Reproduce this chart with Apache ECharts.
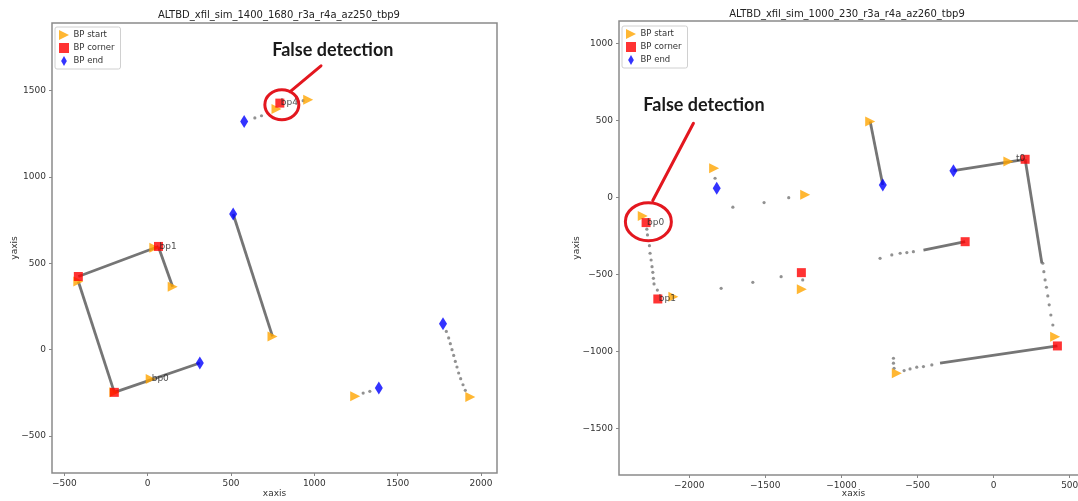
<!DOCTYPE html>
<html>
<head>
<meta charset="utf-8">
<script src="https://cdn.jsdelivr.net/npm/echarts@6/dist/echarts.min.js"></script>
<style>
html,body{margin:0;padding:0;background:#fff;overflow:hidden;}
#chart{width:1078px;height:501px;}
</style>
</head>
<body>
<div id="chart"></div>
<script>
// ---------- DATA ----------
const leftTitle = 'ALTBD_xfil_sim_1400_1680_r3a_r4a_az250_tbp9';
const rightTitle = 'ALTBD_xfil_sim_1000_230_r3a_r4a_az260_tbp9';
const seriesNames = ['BP start', 'BP corner', 'BP end'];
const axisNames = ['xaxis', 'yaxis'];

const leftXTicks = [-500, 0, 500, 1000, 1500, 2000];
const leftYTicks = [-500, 0, 500, 1000, 1500];
const rightXTicks = [-2000, -1500, -1000, -500, 0, 500];
const rightYTicks = [-1500, -1000, -500, 0, 500, 1000];

// left panel
const leftStart = [[-416,395],[40,590],[150,365],[-200,-247],[18,-170],[749,77],[1936,-274],[1245,-270],[773,1394],[963,1448]];
const leftCorner = [[-416,424],[65,598],[-200,-247],[793,1428]];
const leftEnd = [[313,-77],[513,786],[1772,150],[1387,-222],[579,1322]];
const leftTracks = [
  [[-416,424],[65,598]],
  [[65,595],[150,365]],
  [[-416,395],[-200,-247]],
  [[-200,-247],[313,-77]],
  [[513,786],[749,77]]
];
const leftDots = [[643,1342],[683,1355],[903,1438],[933,1442],
  [1792,106],[1806,68],[1816,35],[1826,0],[1836,-33],[1846,-68],[1856,-100],[1866,-135],[1878,-168],[1892,-203],[1906,-235],
  [1293,-251],[1333,-241]];
const leftLabels = [[65,598,'bp1'],[18,-170,'bp0'],[793,1428,'bp4']];

// right panel
const rightStart = [[-2305,-119],[-2104,-643],[-1260,-595],[-1836,191],[-1238,18],[-811,494],[97,234],[404,-903],[-636,-1140]];
const rightCorner = [[-2283,-162],[-2206,-658],[-1263,-487],[207,249],[419,-963],[-187,-286]];
const rightEnd = [[-1819,61],[-728,82],[-264,175]];
const rightTracks = [
  [[-811,494],[-728,82]],
  [[-264,175],[207,249]],
  [[207,249],[317,-426]],
  [[419,-963],[-352,-1075]],
  [[-187,-286],[-461,-340]]
];
const rightDots = [[-2278,-205],[-2274,-242],[-2261,-312],[-2257,-361],[-2250,-405],[-2244,-448],[-2239,-485],[-2235,-524],[-2231,-560],[-2209,-600],
  [-1790,-589],[-1582,-550],[-1396,-513],[-1254,-534],
  [-1830,126],[-1713,-62],[-1508,-32],[-1346,0],
  [323,-426],[330,-481],[338,-534],[347,-582],[356,-638],[365,-696],[376,-762],[389,-827],
  [-406,-1086],[-461,-1097],[-505,-1101],[-549,-1112],[-588,-1123],
  [-658,-1043],[-658,-1075],[-654,-1108],
  [-527,-351],[-570,-357],[-614,-361],[-669,-372],[-746,-394]];
const rightLabels = [[-2283,-162,'bp0'],[-2206,-658,'bp1'],[141,256,'t0']];

// annotation overlays (data coordinates of each panel)
const annotationText = 'False detection';
const annotations = [
  {grid:0, text:[1111,1737], circle:[805,1419], lineFrom:[1040,1644], lineTo:[855,1494], rx:17, ry:15},
  {grid:1, text:[-1903,602], circle:[-2268,-156], lineFrom:[-1972,483], lineTo:[-2239,-19], rx:23, ry:19}
];

// ---------- CHART ----------
const FONT = 'DejaVu Sans';
const triPath = 'path://M0,0L10,5L0,10Z';
const sqPath = 'path://M0,0L10,0L10,10L0,10Z';
const diaPath = 'path://M4,0L8,7L4,14L0,7Z';
const colors = {start:'#FFA500', corner:'#FF0000', end:'#0000FF', track:'#757575'};
const minusFmt = v => String(v).replace('-', '\u2212');

const chart = echarts.init(document.getElementById('chart'), null, {renderer:'canvas'});

function xAxisCfg(gi, min, max, ticks, gap){
  return {
    type:'value', gridIndex:gi, min:min, max:max, position:'bottom',
    name:axisNames[0], nameLocation:'middle', nameGap:gap, nameMoveOverlap:false,
    nameTextStyle:{fontFamily:FONT, fontSize:9, color:'#333'},
    axisLine:{show:false, onZero:false}, splitLine:{show:false},
    axisTick:{show:true, length:3, lineStyle:{color:'#888'}, customValues:ticks},
    axisLabel:{fontFamily:FONT, fontSize:9, color:'#333', margin:6, customValues:ticks, formatter:minusFmt}
  };
}
function yAxisCfg(gi, min, max, ticks, gap){
  return {
    type:'value', gridIndex:gi, min:min, max:max, position:'left',
    name:axisNames[1], nameLocation:'middle', nameGap:gap, nameRotate:90, nameMoveOverlap:false,
    nameTextStyle:{fontFamily:FONT, fontSize:9, color:'#333'},
    axisLine:{show:false, onZero:false}, splitLine:{show:false},
    axisTick:{show:true, length:3, lineStyle:{color:'#888'}, customValues:ticks},
    axisLabel:{fontFamily:FONT, fontSize:9, color:'#333', margin:6, customValues:ticks, formatter:minusFmt}
  };
}
function panelSeries(gi, tracks, dots, start, corner, end, labels){
  return [
    {type:'lines', coordinateSystem:'cartesian2d', xAxisIndex:gi, yAxisIndex:gi, polyline:true, silent:true,
     lineStyle:{color:colors.track, width:2.8, opacity:1}, data:tracks.map(t => ({coords:t})), z:2},
    {type:'scatter', name:'pts', xAxisIndex:gi, yAxisIndex:gi, symbol:'circle', symbolSize:3.2,
     itemStyle:{color:colors.track}, data:dots, silent:true, z:3},
    {type:'scatter', name:seriesNames[0], xAxisIndex:gi, yAxisIndex:gi, symbol:triPath, symbolSize:[10,10],
     itemStyle:{color:colors.start}, data:start, z:4},
    {type:'scatter', name:seriesNames[1], xAxisIndex:gi, yAxisIndex:gi, symbol:sqPath, symbolSize:[9,9],
     itemStyle:{color:colors.corner}, data:corner, z:5},
    {type:'scatter', name:seriesNames[2], xAxisIndex:gi, yAxisIndex:gi, symbol:diaPath, symbolSize:[8,13],
     itemStyle:{color:colors.end}, data:end, z:6},
    {type:'scatter', name:'labels', xAxisIndex:gi, yAxisIndex:gi, symbolSize:0, silent:true, z:7,
     data:labels,
     label:{show:true, position:'right', distance:1, formatter:p => p.value[2],
            fontFamily:FONT, fontSize:9, color:'#222'}}
  ];
}
function legendCfg(left, top){
  return {
    left:left, top:top, orient:'vertical', itemGap:3, itemWidth:11, itemHeight:10,
    padding:[3,6,3,4], borderColor:'#d0d0d0', borderWidth:1, borderRadius:2, backgroundColor:'#fff',
    textStyle:{fontFamily:FONT, fontSize:8.5, color:'#333', padding:[0,0,0,-1]},
    selectedMode:false,
    data:[{name:seriesNames[0], icon:triPath},{name:seriesNames[1], icon:sqPath},{name:seriesNames[2], icon:diaPath}]
  };
}

const option = {
  backgroundColor:'#fff',
  animation:false,
  title:[
    {text:leftTitle, left:274, top:5, textAlign:'center', textStyle:{fontFamily:FONT, fontSize:10, fontWeight:'normal', color:'#222'}},
    {text:rightTitle, left:842, top:4, textAlign:'center', textStyle:{fontFamily:FONT, fontSize:10, fontWeight:'normal', color:'#222'}}
  ],
  legend:[legendCfg(55, 27), legendCfg(622, 26)],
  grid:[
    {left:52, top:23, width:445, height:450, outerBoundsMode:'none', containLabel:false, show:true, borderColor:'#8a8a8a', borderWidth:1.5, backgroundColor:'#fff'},
    {left:619, top:21, width:469, height:454, outerBoundsMode:'none', containLabel:false, show:true, borderColor:'#8a8a8a', borderWidth:1.5, backgroundColor:'#fff'}
  ],
  xAxis:[xAxisCfg(0, -574, 2096, leftXTicks, 16), xAxisCfg(1, -2461, 620, rightXTicks, 14)],
  yAxis:[yAxisCfg(0, -714, 1892, leftYTicks, 33), yAxisCfg(1, -1801, 1147, rightYTicks, 38)],
  series:[].concat(
    panelSeries(0, leftTracks, leftDots, leftStart, leftCorner, leftEnd, leftLabels),
    panelSeries(1, rightTracks, rightDots, rightStart, rightCorner, rightEnd, rightLabels)
  )
};
chart.setOption(option);

// annotation overlays positioned through the axes
const red = '#e3171f';
const graphics = [];
annotations.forEach(a => {
  const g = {gridIndex:a.grid};
  const t = chart.convertToPixel(g, a.text);
  const c = chart.convertToPixel(g, a.circle);
  const l0 = chart.convertToPixel(g, a.lineFrom);
  const l1 = chart.convertToPixel(g, a.lineTo);
  graphics.push({type:'line', shape:{x1:l0[0], y1:l0[1], x2:l1[0], y2:l1[1]}, style:{stroke:red, lineWidth:3, lineCap:'round'}, z:100});
  graphics.push({type:'ellipse', shape:{cx:c[0], cy:c[1], rx:a.rx, ry:a.ry}, style:{fill:null, stroke:red, lineWidth:3}, z:100});
  graphics.push({type:'text', x:t[0], y:t[1], style:{text:annotationText, fontFamily:'Lato', fontWeight:'bold', fontSize:18, fill:'#1a1a1a', align:'center', verticalAlign:'middle'}, z:100});
});
chart.setOption({graphic:graphics});
</script>
</body>
</html>
